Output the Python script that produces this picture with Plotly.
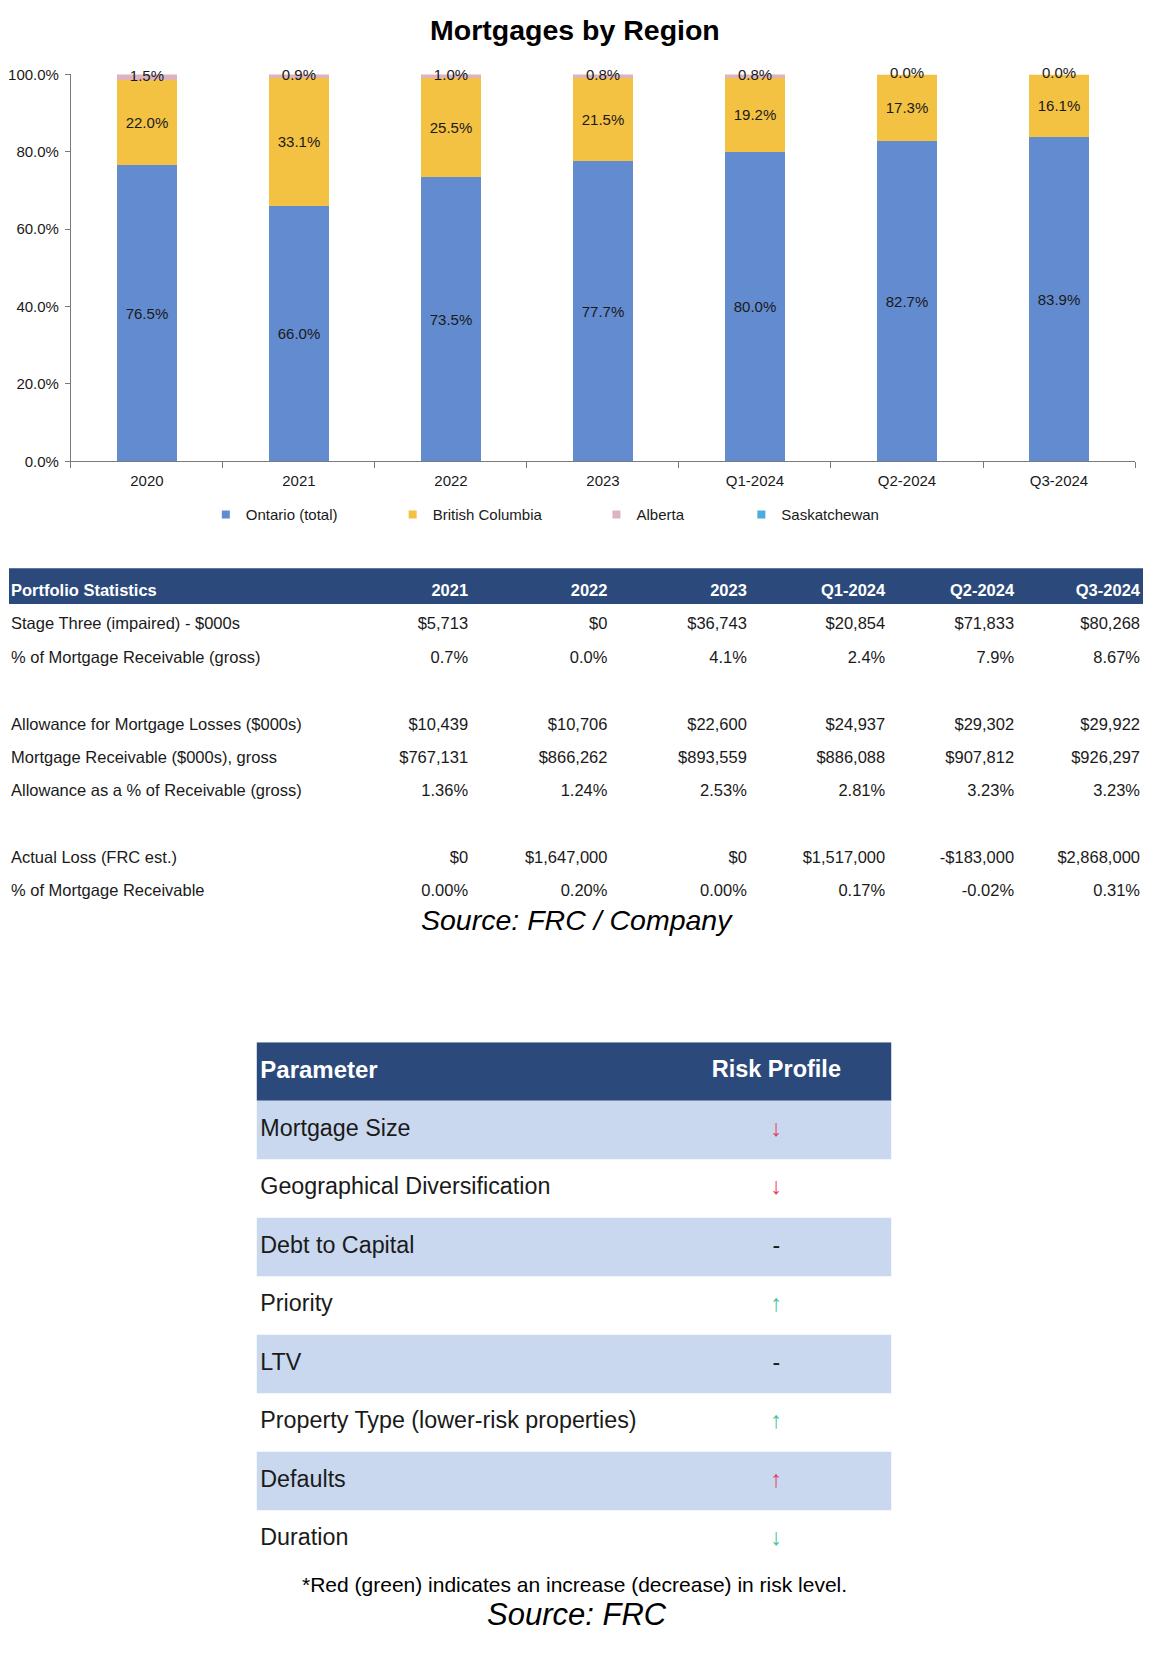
import plotly.graph_objects as go
import numpy as np

# ---------------- data ----------------
categories = ["2020", "2021", "2022", "2023", "Q1-2024", "Q2-2024", "Q3-2024"]
ontario = [76.5, 66.0, 73.5, 77.7, 80.0, 82.7, 83.9]
british_columbia = [22.0, 33.1, 25.5, 21.5, 19.2, 17.3, 16.1]
alberta = [1.5, 0.9, 1.0, 0.8, 0.8, 0.0, 0.0]
saskatchewan = [0.0, 0.0, 0.0, 0.0, 0.0, 0.0, 0.0]
y_ticks = [0, 20, 40, 60, 80, 100]

stat_columns = ["2021", "2022", "2023", "Q1-2024", "Q2-2024", "Q3-2024"]
stat_row_labels = [
    "Stage Three (impaired) - $000s",
    "% of Mortgage Receivable (gross)",
    "",
    "Allowance for Mortgage Losses ($000s)",
    "Mortgage Receivable ($000s), gross",
    "Allowance as a % of Receivable (gross)",
    "",
    "Actual Loss (FRC est.)",
    "% of Mortgage Receivable",
]
stage_three = ["$5,713", "$0", "$36,743", "$20,854", "$71,833", "$80,268"]
stage_three_pct = ["0.7%", "0.0%", "4.1%", "2.4%", "7.9%", "8.67%"]
allowance = ["$10,439", "$10,706", "$22,600", "$24,937", "$29,302", "$29,922"]
receivable = ["$767,131", "$866,262", "$893,559", "$886,088", "$907,812", "$926,297"]
allowance_pct = ["1.36%", "1.24%", "2.53%", "2.81%", "3.23%", "3.23%"]
actual_loss = ["$0", "$1,647,000", "$0", "$1,517,000", "-$183,000", "$2,868,000"]
actual_loss_pct = ["0.00%", "0.20%", "0.00%", "0.17%", "-0.02%", "0.31%"]
stat_rows = [stage_three, stage_three_pct, None, allowance, receivable, allowance_pct,
             None, actual_loss, actual_loss_pct]

risk_parameters = ["Mortgage Size", "Geographical Diversification", "Debt to Capital",
                   "Priority", "LTV", "Property Type (lower-risk properties)",
                   "Defaults", "Duration"]
risk_symbols = ["↓", "↓", "-", "↑", "-", "↑", "↑", "↓"]
risk_signal = ["red", "red", "none", "green", "none", "green", "red", "green"]

# ---------------- style ----------------
FONT = "Liberation Sans, Arial, sans-serif"
NAVY = "#2B4A7B"
LIGHT = "#C9D8EF"
TXT = "#1a1a1a"
PAGE_W, PAGE_H = 1164, 1668
BODY_MARGIN = 8                      # default browser body margin
W, H = PAGE_W - 2 * BODY_MARGIN, PAGE_H - 2 * BODY_MARGIN
SIG_COLORS = {"red": "#E5405C", "green": "#47C08C", "none": "#1a1a1a"}
SERIES_COLORS = ["#638BCF", "#F4C242", "#DDB4BE", "#4BACE0"]
SERIES_NAMES = ["Ontario (total)", "British Columbia", "Alberta", "Saskatchewan"]
LEGEND_X = [205, 392, 596, 741]


def px_x(p):
    return (p - BODY_MARGIN) / W


def px_y(p):
    return 1 - (p - BODY_MARGIN) / H


fig = go.Figure()

# ---------------- stacked bar chart ----------------
series_values = [ontario, british_columbia, alberta, saskatchewan]
for k, (name, vals, col) in enumerate(zip(SERIES_NAMES, series_values, SERIES_COLORS)):
    labelled = k < 2
    fig.add_trace(go.Bar(
        name=name, x=categories, y=vals, marker_color=col, marker_line_width=0,
        text=[f"{v:.1f}%" for v in vals] if labelled else None,
        textposition="inside" if labelled else "none",
        insidetextanchor="middle", textangle=0, constraintext="none",
        textfont=dict(size=15, color=TXT, family=FONT), hoverinfo="skip",
        showlegend=False))
    # legend entry (small square swatch)
    fig.add_trace(go.Scatter(
        x=[None], y=[None], mode="markers", name=name,
        marker=dict(symbol="square", size=8, color=col),
        legend="legend" if k == 0 else f"legend{k + 1}", hoverinfo="skip"))

alberta_mid = np.array(ontario) + np.array(british_columbia) + np.array(alberta) / 2
fig.add_trace(go.Scatter(
    x=categories, y=alberta_mid, mode="text",
    text=[f"{v:.1f}%" for v in alberta], textposition="middle center",
    textfont=dict(size=15, color=TXT, family=FONT), showlegend=False,
    cliponaxis=False, hoverinfo="skip"))

# ---------------- portfolio statistics table ----------------
T1_LEFT, T1_RIGHT = 8, 1143
col_right = [467.5, 607, 746.5, 885, 1014, 1140]
label_x = 10
ROW0, ROWH = 589.0, 33.7          # header text centre and row pitch (px)
T1_TOP_ROW, T1_BOT_ROW = -0.75, 9.5

fig.add_shape(type="rect", xref="x2 domain", yref="y2", x0=0, x1=1,
              y0=(565 - ROW0) / ROWH, y1=(601 - ROW0) / ROWH,
              fillcolor=NAVY, line=dict(width=0), layer="below")
fig.add_trace(go.Scatter(
    x=[label_x], y=[0], mode="text", text=["<b>Portfolio Statistics</b>"],
    textposition="middle right", textfont=dict(size=16.5, color="white", family=FONT),
    xaxis="x2", yaxis="y2", showlegend=False, hoverinfo="skip"))
fig.add_trace(go.Scatter(
    x=col_right, y=[0] * len(stat_columns), mode="text",
    text=[f"<b>{c}</b>" for c in stat_columns], textposition="middle left",
    textfont=dict(size=16.5, color="white", family=FONT),
    xaxis="x2", yaxis="y2", showlegend=False, hoverinfo="skip"))
row_idx = [i + 1 for i, lab in enumerate(stat_row_labels) if lab]
fig.add_trace(go.Scatter(
    x=[label_x] * len(row_idx), y=row_idx, mode="text",
    text=[lab for lab in stat_row_labels if lab], textposition="middle right",
    textfont=dict(size=16.5, color=TXT, family=FONT),
    xaxis="x2", yaxis="y2", showlegend=False, hoverinfo="skip"))
for ci, xr in enumerate(col_right):
    ys, ts = [], []
    for ri, row in enumerate(stat_rows):
        if row is not None:
            ys.append(ri + 1)
            ts.append(row[ci])
    fig.add_trace(go.Scatter(
        x=[xr] * len(ys), y=ys, mode="text", text=ts, textposition="middle left",
        textfont=dict(size=16.5, color=TXT, family=FONT),
        xaxis="x2", yaxis="y2", showlegend=False, hoverinfo="skip"))

# ---------------- risk profile table ----------------
T2_LEFT, T2_RIGHT = 256, 891
T2_TOP, T2_BOTTOM = 1044, 1576
param_x = 259.5
risk_x = 776
n_risk = len(risk_parameters)
fig.add_shape(type="rect", xref="x3 domain", yref="y3", x0=0, x1=1, y0=-0.5, y1=0.5,
              fillcolor=NAVY, line=dict(width=0), layer="below")
for i in range(n_risk):
    if i % 2 == 0:
        fig.add_shape(type="rect", xref="x3 domain", yref="y3", x0=0, x1=1,
                      y0=i + 0.5, y1=i + 1.5, fillcolor=LIGHT,
                      line=dict(width=0), layer="below")
fig.add_trace(go.Scatter(
    x=[param_x], y=[0], mode="text", text=["<b>Parameter</b>"],
    textposition="middle right", textfont=dict(size=24, color="white", family=FONT),
    xaxis="x3", yaxis="y3", showlegend=False, hoverinfo="skip"))
fig.add_trace(go.Scatter(
    x=[risk_x], y=[0], mode="text", text=["<b>Risk Profile</b>"],
    textposition="middle center", textfont=dict(size=23.5, color="white", family=FONT),
    xaxis="x3", yaxis="y3", showlegend=False, hoverinfo="skip"))
fig.add_trace(go.Scatter(
    x=[param_x] * n_risk, y=list(range(1, n_risk + 1)), mode="text",
    text=risk_parameters, textposition="middle right",
    textfont=dict(size=23.3, color=TXT, family=FONT),
    xaxis="x3", yaxis="y3", showlegend=False, hoverinfo="skip"))
fig.add_trace(go.Scatter(
    x=[risk_x] * n_risk, y=list(range(1, n_risk + 1)), mode="text",
    text=risk_symbols, textposition="middle center",
    textfont=dict(size=23, color=[SIG_COLORS[s] for s in risk_signal], family=FONT),
    xaxis="x3", yaxis="y3", showlegend=False, hoverinfo="skip"))

# ---------------- layout ----------------
hidden = dict(visible=False, fixedrange=True, showgrid=False, zeroline=False)
legend_common = dict(orientation="h", xanchor="left", y=px_y(511), yanchor="middle",
                     font=dict(size=15, family=FONT, color=TXT),
                     bgcolor="rgba(0,0,0,0)", itemwidth=30)
legends = {}
for k, lx in enumerate(LEGEND_X):
    key = "legend" if k == 0 else f"legend{k + 1}"
    legends[key] = dict(x=px_x(lx), **legend_common)

fig.update_layout(
    width=W, height=H, autosize=False,
    margin=dict(l=0, r=0, t=0, b=0),
    paper_bgcolor="white", plot_bgcolor="white",
    font=dict(family=FONT, color=TXT),
    barmode="stack", bargap=0.6,
    xaxis=dict(domain=[px_x(70), px_x(1135)], type="category", showline=True,
               linecolor="#7a7a7a", linewidth=1, ticks="outside", tickson="boundaries",
               ticklen=6, tickcolor="#7a7a7a", showgrid=False, ticklabelstandoff=6,
               fixedrange=True, tickfont=dict(size=15, color=TXT, family=FONT)),
    yaxis=dict(domain=[px_y(457), px_y(66)], range=[0, 100], tickvals=y_ticks,
               ticktext=[f"{v:.1f}%" for v in y_ticks], showline=True,
               linecolor="#7a7a7a", linewidth=1, ticks="outside", ticklen=5,
               tickcolor="#7a7a7a", showgrid=False, zeroline=False,
               ticklabelstandoff=3, fixedrange=True,
               tickfont=dict(size=15, color=TXT, family=FONT)),
    xaxis2=dict(domain=[px_x(T1_LEFT), px_x(T1_RIGHT)], range=[T1_LEFT, T1_RIGHT],
                anchor="y2", **hidden),
    yaxis2=dict(domain=[px_y(ROW0 + T1_BOT_ROW * ROWH), px_y(ROW0 + T1_TOP_ROW * ROWH)],
                range=[T1_BOT_ROW, T1_TOP_ROW], anchor="x2", **hidden),
    xaxis3=dict(domain=[px_x(T2_LEFT), px_x(T2_RIGHT)], range=[T2_LEFT, T2_RIGHT],
                anchor="y3", **hidden),
    yaxis3=dict(domain=[px_y(T2_BOTTOM), px_y(T2_TOP)], range=[8.5, -0.5], anchor="x3",
                **hidden),
    showlegend=True,
    annotations=[
        dict(text="<b>Mortgages by Region</b>", x=px_x(574), y=px_y(21),
             xref="paper", yref="paper", showarrow=False, xanchor="center",
             yanchor="middle", font=dict(size=28.5, family=FONT, color="black")),
        dict(text="<i>Source: FRC / Company</i>", x=px_x(576), y=px_y(920),
             xref="paper", yref="paper", showarrow=False, xanchor="center",
             yanchor="middle", font=dict(size=28.5, family=FONT, color="black")),
        dict(text="*Red (green) indicates an increase (decrease) in risk level.",
             x=px_x(574), y=px_y(1592), xref="paper", yref="paper", showarrow=False,
             xanchor="center", yanchor="middle",
             font=dict(size=21, family=FONT, color="black")),
        dict(text="<i>Source: FRC</i>", x=px_x(576), y=px_y(1622), xref="paper",
             yref="paper", showarrow=False, xanchor="center", yanchor="middle",
             font=dict(size=31, family=FONT, color="black")),
    ],
    **legends,
)

fig.write_html("out.html", config={"displayModeBar": False, "staticPlot": True})
